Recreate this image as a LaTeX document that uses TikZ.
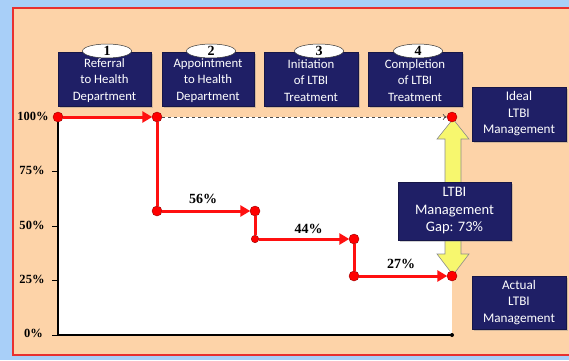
\documentclass[tikz,border=0pt]{standalone}
\usepackage{fontspec}
\setmainfont{Carlito}
\newfontfamily\numfont{Liberation Serif}
\usetikzlibrary{arrows.meta,shadows,shapes.geometric}
\definecolor{bgblue}{HTML}{A8CFF8}
\definecolor{peach}{HTML}{FDD3A8}
\definecolor{frame}{HTML}{E8302F}
\definecolor{navy}{HTML}{1F1F66}
\definecolor{dotred}{HTML}{FF0000}
\definecolor{pathred}{HTML}{FF1010}
\definecolor{yel}{HTML}{F7F76E}
\tikzset{
  navybox/.style={fill=navy, draw=navy!70!black, line width=0.4pt, text=white,
    font=\fontsize{12.8}{16.5}\selectfont, align=center, inner sep=0pt,
    drop shadow={opacity=0.35, shadow xshift=1.5pt, shadow yshift=-1.5pt}},
  numoval/.style={ellipse, fill=white, draw=black!80, line width=0.5pt,
    minimum width=49pt, minimum height=14pt, inner sep=0pt,
    font=\numfont\bfseries\fontsize{14}{14}\selectfont},
  reddot/.style={circle, fill=dotred, draw=red!60!black, line width=0.4pt,
    minimum size=10pt, inner sep=0pt},
  smalldot/.style={reddot, minimum size=7.5pt},
  redline/.style={pathred, line width=3pt},
  redarrow/.style={redline, -{Triangle[length=10pt,width=11pt]}, shorten >=-0.5pt},
  axislab/.style={font=\numfont\bfseries\fontsize{12.5}{12.5}\selectfont},
  datalab/.style={font=\numfont\bfseries\fontsize{14}{14}\selectfont},
  boxtext/.style={text=white, font=\fontsize{12.8}{16.5}\selectfont, align=center, inner sep=0pt},
}
\begin{document}
\begin{tikzpicture}[x=1pt,y=-1pt]
\useasboundingbox (0,0) rectangle (569,360);
% backgrounds
\fill[bgblue] (0,0) rectangle (569,360);
\fill[peach] (13,8) rectangle (569,355);
\draw[frame, line width=1.2pt] (569,8) -- (13,8) -- (13,355) -- (569,355);
% plot area
\fill[white] (58,117) rectangle (452,335);
% axis
\draw[black, line width=1.5pt] (58,117) -- (58,335) -- (452,335);
\fill[black] (452,335) circle (2pt);
\foreach \yy in {171,226,280,335} \draw[black, line width=0.8pt] (52,\yy) -- (58,\yy);
\node[axislab] (l100) at (33,116) {100\%};
\node[axislab] (l75) at (32,170) {75\%};
\node[axislab] (l50) at (32,225) {50\%};
\node[axislab] (l25) at (32,279) {25\%};
\node[axislab] (l0) at (33.5,333) {0\%};
% top boxes
\node[navybox, minimum width=93pt, minimum height=54pt] (b1) at (104.5,79) {};
\node[navybox, minimum width=92pt, minimum height=54pt] (b2) at (208,79) {};
\node[navybox, minimum width=94pt, minimum height=54pt] (b3) at (311,79) {};
\node[navybox, minimum width=94pt, minimum height=54pt] (b4) at (415,79) {};
\node[numoval] (n1) at (107,51) {1};
\node[numoval] (n2) at (211,51) {2};
\node[numoval] (n3) at (319,51) {3};
\node[numoval] (n4) at (418,51) {4};
\node[boxtext] (t1) at ([yshift=-1.5pt]b1.center) {Referral\\to Health\\Department};
\node[boxtext] (t2) at ([yshift=-1.5pt]b2.center) {Appointment\\to Health\\Department};
\node[boxtext] (t3) at ([yshift=-1.5pt]b3.center) {Initiation\\of LTBI\\Treatment};
\node[boxtext] (t4) at ([yshift=-1.5pt]b4.center) {Completion\\of LTBI\\Treatment};
% side boxes
\node[navybox, font=\fontsize{13.2}{16.5}\selectfont, minimum width=94pt, minimum height=54pt] (ideal) at (519,114) {Ideal\\LTBI\\Management};
\node[navybox, font=\fontsize{13.2}{16.5}\selectfont, minimum width=94pt, minimum height=53pt] (actual) at (519,302.5) {Actual\\LTBI\\Management};
% yellow double arrow
\filldraw[fill=yel, draw=black!45, line width=0.6pt]
  (453,119) -- (469,139) -- (461,139) -- (461,254) -- (469,254) -- (453,275)
  -- (437,254) -- (445,254) -- (445,139) -- (437,139) -- cycle;
\node[navybox, font=\fontsize{14.5}{17.5}\selectfont, minimum width=113pt, minimum height=58pt] (gap) at (454.5,211) {LTBI\\Management\\Gap: 73\%};
% dots
\node[reddot] (p1) at (58,117) {};
\node[reddot] (p2) at (157,117) {};
\node[reddot] (p3) at (157,211) {};
\node[reddot] (p4) at (255,211) {};
\node[smalldot] (p5) at (255,239) {};
\node[reddot] (p6) at (354,239) {};
\node[reddot] (p7) at (354,276) {};
\node[reddot] (p8) at (452,276) {};
\node[reddot] (q) at (452,117) {};
% connectors
\draw[black!70, dashed, line width=0.7pt, -{To[length=4pt,width=6pt]}] (p2) -- (q);
\draw[redarrow] (p1) -- (p2);
\draw[redline] (p2) -- (p3);
\draw[redarrow] (p3) -- (p4);
\draw[redline] (p4) -- (p5);
\draw[redarrow] (p5) -- (p6);
\draw[redline] (p6) -- (p7);
\draw[redarrow] (p7) -- (p8);
% data labels
\node[datalab] (d56) at (203,199) {56\%};
\node[datalab] (d44) at (308.5,229) {44\%};
\node[datalab] (d27) at (401,264) {27\%};
\end{tikzpicture}
\end{document}
